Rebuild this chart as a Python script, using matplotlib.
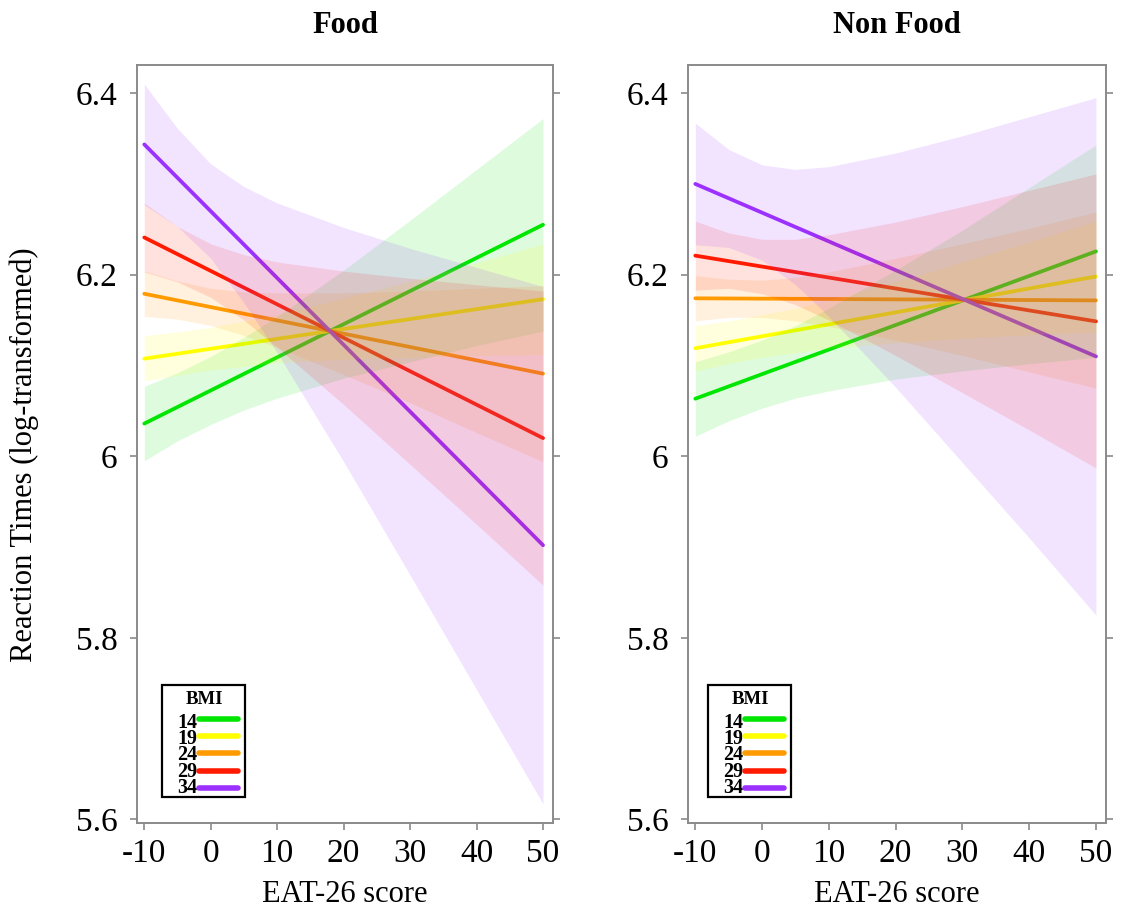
#!/usr/bin/env python3
import numpy as np
import matplotlib
matplotlib.use("Agg")
import matplotlib.pyplot as plt
from matplotlib.patches import Rectangle

plt.rcParams["font.family"] = ["Liberation Serif", "DejaVu Serif"]

# EAT-26 score grid where the bands were read
eat = [-10, -5, 0, 5, 10, 20, 30, 40, 50]
bmi_levels = ["14", "19", "24", "29", "34"]
colors = ["#00E600", "#FFFF00", "#FF9A00", "#FF1A00", "#9B30FF"]

# fitted lines: value at EAT=-10 and EAT=50
food_start = [6.036, 6.1075, 6.179, 6.241, 6.3435]
food_end = [6.255, 6.173, 6.091, 6.020, 5.902]
nonfood_start = [6.0634, 6.119, 6.174, 6.221, 6.300]
nonfood_end = [6.2257, 6.198, 6.1717, 6.1486, 6.110]

# confidence bands, Food panel
food_lo_14 = [5.995, 6.017, 6.035, 6.051, 6.064, 6.086, 6.104, 6.122, 6.138]
food_hi_14 = [6.077, 6.092, 6.110, 6.131, 6.154, 6.205, 6.260, 6.316, 6.372]
food_lo_19 = [6.083, 6.089, 6.095, 6.099, 6.103, 6.107, 6.109, 6.111, 6.112]
food_hi_19 = [6.133, 6.137, 6.142, 6.149, 6.156, 6.174, 6.193, 6.213, 6.234]
food_lo_24 = [6.154, 6.151, 6.144, 6.133, 6.120, 6.090, 6.059, 6.026, 5.994]
food_hi_24 = [6.204, 6.193, 6.185, 6.181, 6.180, 6.180, 6.182, 6.185, 6.188]
food_lo_29 = [6.203, 6.192, 6.175, 6.150, 6.120, 6.057, 5.991, 5.925, 5.858]
food_hi_29 = [6.279, 6.253, 6.234, 6.222, 6.214, 6.204, 6.196, 6.189, 6.182]
food_lo_34 = [6.277, 6.253, 6.218, 6.169, 6.114, 5.994, 5.869, 5.743, 5.617]
food_hi_34 = [6.410, 6.361, 6.322, 6.297, 6.279, 6.252, 6.229, 6.208, 6.187]

# confidence bands, Non Food panel
nonfood_lo_14 = [6.022, 6.039, 6.053, 6.064, 6.072, 6.085, 6.094, 6.102, 6.109]
nonfood_hi_14 = [6.104, 6.115, 6.128, 6.144, 6.163, 6.205, 6.249, 6.296, 6.343]
nonfood_lo_19 = [6.094, 6.102, 6.109, 6.114, 6.119, 6.125, 6.130, 6.134, 6.137]
nonfood_hi_19 = [6.144, 6.149, 6.156, 6.163, 6.172, 6.192, 6.214, 6.236, 6.259]
nonfood_lo_24 = [6.149, 6.153, 6.153, 6.149, 6.143, 6.128, 6.111, 6.093, 6.075]
nonfood_hi_24 = [6.199, 6.195, 6.194, 6.197, 6.203, 6.218, 6.234, 6.251, 6.269]
nonfood_lo_29 = [6.183, 6.185, 6.179, 6.167, 6.150, 6.111, 6.070, 6.029, 5.987]
nonfood_hi_29 = [6.259, 6.246, 6.239, 6.239, 6.244, 6.258, 6.275, 6.293, 6.311]
nonfood_lo_34 = [6.233, 6.230, 6.216, 6.189, 6.154, 6.076, 5.993, 5.910, 5.825]
nonfood_hi_34 = [6.367, 6.338, 6.321, 6.316, 6.319, 6.334, 6.353, 6.374, 6.395]

food_lo = [food_lo_14, food_lo_19, food_lo_24, food_lo_29, food_lo_34]
food_hi = [food_hi_14, food_hi_19, food_hi_24, food_hi_29, food_hi_34]
nonfood_lo = [nonfood_lo_14, nonfood_lo_19, nonfood_lo_24, nonfood_lo_29, nonfood_lo_34]
nonfood_hi = [nonfood_hi_14, nonfood_hi_19, nonfood_hi_24, nonfood_hi_29, nonfood_hi_34]

xticks = [-10, 0, 10, 20, 30, 40, 50]
yticks = [5.6, 5.8, 6.0, 6.2, 6.4]
ytick_labels = ["5.6", "5.8", "6", "6.2", "6.4"]

FRAME = "#8a8a8a"
FIG_W, FIG_H = 1121, 909
ROW = 17.2  # key row step in pixels


def bmi_key(ax, left_px):
    # compact lattice-style key box, laid out in pixels from the axes corner
    pos = ax.get_position()
    aw, ah = pos.width * FIG_W, pos.height * FIG_H

    def fx(p):
        return p / aw

    def fy(p):
        return p / ah

    box_l, box_b, box_w, box_h = left_px, 26, 83, 112
    ax.add_patch(Rectangle((fx(box_l), fy(box_b)), fx(box_w), fy(box_h),
                           transform=ax.transAxes, facecolor="white",
                           edgecolor="black", lw=1.6, zorder=6, clip_on=False))
    ax.text(fx(box_l + 42), fy(box_b + 98), "BMI", transform=ax.transAxes,
            ha="center", va="center", fontsize=13.5, fontweight="bold", zorder=7)
    # the labels are stacked tightly, so one multi-line text holds them all
    ys = [box_b + 78 - i * ROW for i in range(len(bmi_levels))]
    ax.text(fx(box_l + 35), fy(ys[2] - 2), "\n".join(bmi_levels),
            transform=ax.transAxes, ha="right", va="center",
            multialignment="right", fontsize=14.5, fontweight="bold",
            linespacing=0.74, zorder=7)
    for y, c in zip(ys, colors):
        ax.plot([fx(box_l + 37), fx(box_l + 76)], [fy(y), fy(y)], color=c,
                lw=4, solid_capstyle="round", transform=ax.transAxes,
                zorder=7, clip_on=False)


def draw_panel(ax, title, start, end, lo, hi, key_left):
    # lines first, bands on top (like the lattice effect plot)
    for i, c in enumerate(colors):
        ax.plot([eat[0], eat[-1]], [start[i], end[i]], color=c, lw=2.7,
                solid_capstyle="round", zorder=2)
    for i, c in enumerate(colors):
        ax.fill_between(eat, lo[i], hi[i], color=c, alpha=0.13, lw=0, zorder=3)

    ax.set_xlim(-11.1, 51.5)
    ax.set_ylim(5.596, 6.431)
    ax.set_xticks(xticks)
    ax.set_xticklabels([str(t) for t in xticks])
    ax.set_yticks(yticks)
    ax.set_yticklabels(ytick_labels)
    ax.tick_params(axis="both", direction="out", length=5, width=1.2,
                   color=FRAME, labelsize=24)
    ax.tick_params(axis="y", right=True, pad=9)
    ax.tick_params(axis="x", pad=6)
    for s in ax.spines.values():
        s.set_color(FRAME)
        s.set_linewidth(1.4)
    ax.set_title(title, fontsize=22, fontweight="bold", pad=23)
    bmi_key(ax, key_left)


fig = plt.figure(figsize=(FIG_W / 100, FIG_H / 100), dpi=100)
ax1 = fig.add_axes([0.1222, 0.0946, 0.3711, 0.8339])
ax2 = fig.add_axes([0.6137, 0.0946, 0.3729, 0.8339])

draw_panel(ax1, "Food", food_start, food_end, food_lo, food_hi, 25)
draw_panel(ax2, "Non Food", nonfood_start, nonfood_end, nonfood_lo, nonfood_hi, 20)

for ax in (ax1, ax2):
    ax.set_xlabel("EAT-26 score", fontsize=22, labelpad=8)

fig.text(0.022, 0.5, "Reaction Times (log-transformed)", rotation=90,
         ha="center", va="center", fontsize=22)

fig.savefig("out.png", dpi=100)
